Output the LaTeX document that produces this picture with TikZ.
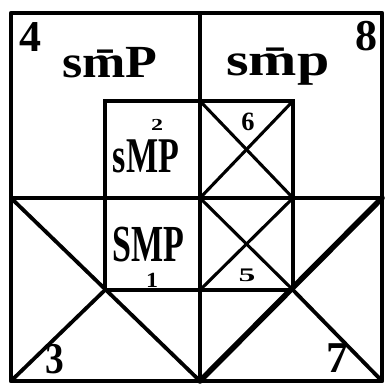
\documentclass[tikz,border=0pt]{standalone}
\usepackage{fontspec}
\setmainfont{Liberation Serif}
\begin{document}
\begin{tikzpicture}[x=1pt,y=-1pt,
  frame/.style={line width=4.6pt,line cap=round,line join=round},
  mainline/.style={line width=3.8pt,line cap=round},
  heavyline/.style={line width=5.6pt,line cap=round},
  crossline/.style={line width=3.1pt,line cap=round},
  bigdigit/.style={font=\bfseries\fontsize{44}{44}\selectfont,inner sep=0pt},
  smalldigit/.style={font=\bfseries\fontsize{24}{24}\selectfont,inner sep=0pt},
  word/.style={font=\bfseries\fontsize{40}{40}\selectfont,inner sep=0pt}]
\useasboundingbox (0,0) rectangle (385,383);
% corners
\coordinate (TL) at (11,13);
\coordinate (TR) at (382,13);
\coordinate (BL) at (11,381);
\coordinate (BR) at (382,381);
\coordinate (TM) at (200,13);
\coordinate (BM) at (200,381);
\coordinate (LM) at (11,198);
\coordinate (RM) at (382,198);
\coordinate (ITL) at (105,101);
\coordinate (ITM) at (200,101);
\coordinate (ITR) at (293,101);
\coordinate (IMR) at (293,198);
\coordinate (IMM) at (200,198);
\coordinate (IBL) at (105,290);
\coordinate (IBM) at (200,290);
\coordinate (IBR) at (293,290);
% grid
\draw[frame] (TL) rectangle (BR);
\draw[mainline] (TM) -- (BM);
\draw[mainline] (LM) -- (RM);
\draw[mainline] (ITL) rectangle (IBR);
% lower diagonals
\draw[mainline] (LM) -- (BM);
\draw[mainline] (IBL) -- (BL);
\draw[heavyline] (RM) -- (BM);
\draw[mainline] (IBR) -- (BR);
% inner crosses
\draw[crossline] (ITM) -- (IMR);
\draw[crossline] (ITR) -- (IMM);
\draw[crossline] (IMM) -- (IBR);
\draw[crossline] (IMR) -- (IBM);
% labels
\node[bigdigit] (n4) at (30,37) {4};
\node[bigdigit] (n8) at (366,36) {8};
\node[bigdigit,xscale=0.85] (n3) at (55,359) {3};
\node[bigdigit] (n7) at (337,358) {7};
\node[smalldigit,yscale=0.7] (n2) at (157,125) {2};
\node[smalldigit,scale=1.1] (n6) at (248,122) {6};
\node[smalldigit,xscale=1.4,yscale=0.8] (n5) at (247,275) {5};
\node[smalldigit,yscale=0.9] (n1) at (152,280) {1};
\node[word,anchor=base,xscale=1.3,yscale=1.15] (w4) at (110,77) {s\={m}P};
\node[word,anchor=base,xscale=1.45,yscale=1.15] (w8) at (278,75) {s\={m}p};
\node[word,anchor=base,xscale=0.85,yscale=1.25] (w2) at (146,172) {sMP};
\node[word,anchor=base,xscale=0.85,yscale=1.3] (w1) at (148,261) {SMP};
\end{tikzpicture}
\end{document}
